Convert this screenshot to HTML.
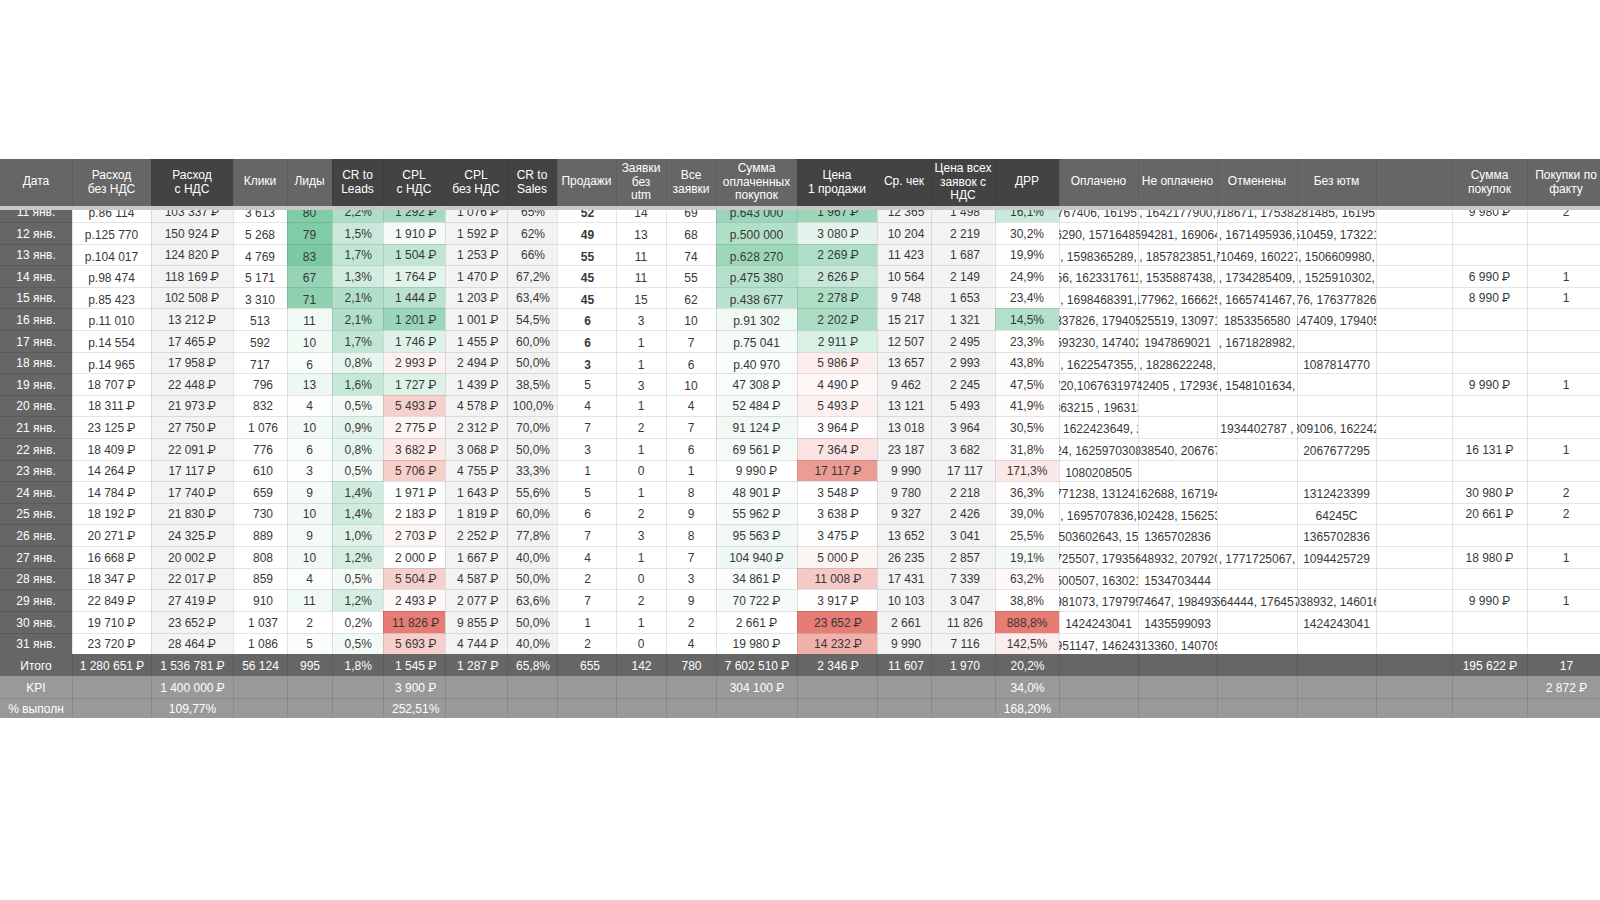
<!DOCTYPE html><html><head><meta charset="utf-8"><style>
html,body{margin:0;padding:0;background:#fff;}
body{width:1600px;height:900px;position:relative;overflow:hidden;font-family:"Liberation Sans",sans-serif;font-size:12px;color:#383838;}
.c{position:absolute;display:flex;align-items:center;justify-content:center;white-space:nowrap;overflow:hidden;box-sizing:border-box;padding-top:1.4px;}
.h{color:#fff;text-align:center;line-height:13.5px;white-space:normal;padding-top:0;}
.h1{padding-bottom:1px;}
.b{padding-top:4.2px;}
.rb{font-style:normal;position:relative;display:inline-block;line-height:12px;}
.rb:after{content:"";position:absolute;left:-0.6px;width:5.4px;top:8.2px;height:1px;background:currentColor;}
.w{color:#fff;}
#body{position:absolute;left:0;top:210px;width:1600px;height:508px;overflow:hidden;}
.vl{position:absolute;width:1px;}
.hl{position:absolute;height:1px;left:0;width:1600px;}
</style></head><body>

<div class="c h h1" style="left:0px;top:159px;width:72px;height:47px;background:#666666">Дата</div>
<div class="c h" style="left:72px;top:159px;width:79px;height:47px;background:#666666">Расход<br>без НДС</div>
<div class="c h" style="left:151px;top:159px;width:82px;height:47px;background:#434343">Расход<br>с НДС</div>
<div class="c h h1" style="left:233px;top:159px;width:54px;height:47px;background:#666666">Клики</div>
<div class="c h h1" style="left:287px;top:159px;width:45px;height:47px;background:#666666">Лиды</div>
<div class="c h" style="left:332px;top:159px;width:51px;height:47px;background:#434343">CR to<br>Leads</div>
<div class="c h" style="left:383px;top:159px;width:62px;height:47px;background:#434343">CPL<br>с НДС</div>
<div class="c h" style="left:445px;top:159px;width:62px;height:47px;background:#434343">CPL<br>без НДС</div>
<div class="c h" style="left:507px;top:159px;width:50px;height:47px;background:#434343">CR to<br>Sales</div>
<div class="c h h1" style="left:557px;top:159px;width:59px;height:47px;background:#666666">Продажи</div>
<div class="c h" style="left:616px;top:159px;width:50px;height:47px;background:#666666">Заявки<br>без<br>utm</div>
<div class="c h" style="left:666px;top:159px;width:50px;height:47px;background:#666666">Все<br>заявки</div>
<div class="c h" style="left:716px;top:159px;width:81px;height:47px;background:#666666">Сумма<br>оплаченных<br>покупок</div>
<div class="c h" style="left:797px;top:159px;width:80px;height:47px;background:#434343">Цена<br>1 продажи</div>
<div class="c h h1" style="left:877px;top:159px;width:54px;height:47px;background:#434343">Ср. чек</div>
<div class="c h" style="left:931px;top:159px;width:64px;height:47px;background:#434343">Цена всех<br>заявок с<br>НДС</div>
<div class="c h h1" style="left:995px;top:159px;width:64px;height:47px;background:#434343">ДРР</div>
<div class="c h h1" style="left:1059px;top:159px;width:79px;height:47px;background:#666666">Оплачено</div>
<div class="c h h1" style="left:1138px;top:159px;width:79px;height:47px;background:#666666">Не оплачено</div>
<div class="c h h1" style="left:1217px;top:159px;width:80px;height:47px;background:#666666">Отменены</div>
<div class="c h h1" style="left:1297px;top:159px;width:79px;height:47px;background:#666666">Без ютм</div>
<div class="c h h1" style="left:1376px;top:159px;width:76px;height:47px;background:#666666"></div>
<div class="c h" style="left:1452px;top:159px;width:75px;height:47px;background:#666666">Сумма<br>покупок</div>
<div class="c h" style="left:1527px;top:159px;width:78px;height:47px;background:#666666">Покупки по<br>факту</div>
<div class="vl" style="left:72px;top:159px;height:47px;background:rgba(0,0,0,0.08)"></div>
<div class="vl" style="left:151px;top:159px;height:47px;background:rgba(0,0,0,0.08)"></div>
<div class="vl" style="left:233px;top:159px;height:47px;background:rgba(0,0,0,0.08)"></div>
<div class="vl" style="left:287px;top:159px;height:47px;background:rgba(0,0,0,0.08)"></div>
<div class="vl" style="left:332px;top:159px;height:47px;background:rgba(0,0,0,0.08)"></div>
<div class="vl" style="left:383px;top:159px;height:47px;background:rgba(0,0,0,0.08)"></div>
<div class="vl" style="left:445px;top:159px;height:47px;background:rgba(0,0,0,0.08)"></div>
<div class="vl" style="left:507px;top:159px;height:47px;background:rgba(0,0,0,0.08)"></div>
<div class="vl" style="left:557px;top:159px;height:47px;background:rgba(0,0,0,0.08)"></div>
<div class="vl" style="left:616px;top:159px;height:47px;background:rgba(0,0,0,0.08)"></div>
<div class="vl" style="left:666px;top:159px;height:47px;background:rgba(0,0,0,0.08)"></div>
<div class="vl" style="left:716px;top:159px;height:47px;background:rgba(0,0,0,0.08)"></div>
<div class="vl" style="left:797px;top:159px;height:47px;background:rgba(0,0,0,0.08)"></div>
<div class="vl" style="left:877px;top:159px;height:47px;background:rgba(0,0,0,0.08)"></div>
<div class="vl" style="left:931px;top:159px;height:47px;background:rgba(0,0,0,0.08)"></div>
<div class="vl" style="left:995px;top:159px;height:47px;background:rgba(0,0,0,0.08)"></div>
<div class="vl" style="left:1059px;top:159px;height:47px;background:rgba(0,0,0,0.08)"></div>
<div class="vl" style="left:1138px;top:159px;height:47px;background:rgba(0,0,0,0.08)"></div>
<div class="vl" style="left:1217px;top:159px;height:47px;background:rgba(0,0,0,0.08)"></div>
<div class="vl" style="left:1297px;top:159px;height:47px;background:rgba(0,0,0,0.08)"></div>
<div class="vl" style="left:1376px;top:159px;height:47px;background:rgba(0,0,0,0.08)"></div>
<div class="vl" style="left:1452px;top:159px;height:47px;background:rgba(0,0,0,0.08)"></div>
<div class="vl" style="left:1527px;top:159px;height:47px;background:rgba(0,0,0,0.08)"></div>
<div style="position:absolute;left:0;top:206px;width:1600px;height:4px;background:#c8c8c8"></div>
<div id="body">
<div class="c w" style="left:0px;top:-10px;width:72px;height:22px;background:#666666">11 янв.</div>
<div class="c b" style="left:72px;top:-10px;width:79px;height:22px;background:#ffffff">р.86 114</div>
<div class="c" style="left:151px;top:-10px;width:82px;height:22px;background:#f3f3f3">103 337 <i class="rb">Р</i></div>
<div class="c b" style="left:233px;top:-10px;width:54px;height:22px;background:#ffffff">3 613</div>
<div class="c b" style="left:287px;top:-10px;width:45px;height:22px;background:#80cca6">80</div>
<div class="c" style="left:332px;top:-10px;width:51px;height:22px;background:#addec6;padding-left:1.6px">2,2%</div>
<div class="c" style="left:383px;top:-10px;width:62px;height:22px;background:#a6dbc1;padding-left:3.4px">1 292 <i class="rb">Р</i></div>
<div class="c" style="left:445px;top:-10px;width:62px;height:22px;background:#f3f3f3;padding-left:3.4px">1 076 <i class="rb">Р</i></div>
<div class="c" style="left:507px;top:-10px;width:50px;height:22px;background:#f3f3f3;padding-left:2px">65%</div>
<div class="c b" style="left:557px;top:-10px;width:59px;height:22px;background:#ffffff;font-weight:bold;padding-left:2px">52</div>
<div class="c b" style="left:616px;top:-10px;width:50px;height:22px;background:#ffffff">14</div>
<div class="c b" style="left:666px;top:-10px;width:50px;height:22px;background:#ffffff">69</div>
<div class="c b" style="left:716px;top:-10px;width:81px;height:22px;background:#9ad6b9">р.643 000</div>
<div class="c" style="left:797px;top:-10px;width:80px;height:22px;background:#9cd7ba;padding-left:2px">1 967 <i class="rb">Р</i></div>
<div class="c" style="left:877px;top:-10px;width:54px;height:22px;background:#f3f3f3;padding-left:4px">12 365</div>
<div class="c" style="left:931px;top:-10px;width:64px;height:22px;background:#f3f3f3;padding-left:4px">1 498</div>
<div class="c" style="left:995px;top:-10px;width:64px;height:22px;background:#c9e9da">16,1%</div>
<div class="c b" style="left:1059px;top:-10px;width:79px;height:22px;background:#ffffff">767406, 16195,</div>
<div class="c b" style="left:1138px;top:-10px;width:79px;height:22px;background:#ffffff">, 1642177900,</div>
<div class="c b" style="left:1217px;top:-10px;width:80px;height:22px;background:#ffffff">918671, 175382</div>
<div class="c b" style="left:1297px;top:-10px;width:79px;height:22px;background:#ffffff">281485, 16195,</div>
<div class="c" style="left:1376px;top:-10px;width:76px;height:22px;background:#ffffff"></div>
<div class="c" style="left:1452px;top:-10px;width:75px;height:22px;background:#ffffff">9 980 <i class="rb">Р</i></div>
<div class="c" style="left:1527px;top:-10px;width:78px;height:22px;background:#ffffff">2</div>
<div class="c w" style="left:0px;top:12px;width:72px;height:22px;background:#666666">12 янв.</div>
<div class="c b" style="left:72px;top:12px;width:79px;height:22px;background:#ffffff">р.125 770</div>
<div class="c" style="left:151px;top:12px;width:82px;height:22px;background:#f3f3f3">150 924 <i class="rb">Р</i></div>
<div class="c b" style="left:233px;top:12px;width:54px;height:22px;background:#ffffff">5 268</div>
<div class="c b" style="left:287px;top:12px;width:45px;height:22px;background:#81cca8">79</div>
<div class="c" style="left:332px;top:12px;width:51px;height:22px;background:#cae9da;padding-left:1.6px">1,5%</div>
<div class="c" style="left:383px;top:12px;width:62px;height:22px;background:#f4faf7;padding-left:3.4px">1 910 <i class="rb">Р</i></div>
<div class="c" style="left:445px;top:12px;width:62px;height:22px;background:#f3f3f3;padding-left:3.4px">1 592 <i class="rb">Р</i></div>
<div class="c" style="left:507px;top:12px;width:50px;height:22px;background:#f3f3f3;padding-left:2px">62%</div>
<div class="c b" style="left:557px;top:12px;width:59px;height:22px;background:#ffffff;font-weight:bold;padding-left:2px">49</div>
<div class="c b" style="left:616px;top:12px;width:50px;height:22px;background:#ffffff">13</div>
<div class="c b" style="left:666px;top:12px;width:50px;height:22px;background:#ffffff">68</div>
<div class="c b" style="left:716px;top:12px;width:81px;height:22px;background:#b1dfc8">р.500 000</div>
<div class="c" style="left:797px;top:12px;width:80px;height:22px;background:#e4f4ec;padding-left:2px">3 080 <i class="rb">Р</i></div>
<div class="c" style="left:877px;top:12px;width:54px;height:22px;background:#f3f3f3;padding-left:4px">10 204</div>
<div class="c" style="left:931px;top:12px;width:64px;height:22px;background:#f3f3f3;padding-left:4px">2 219</div>
<div class="c" style="left:995px;top:12px;width:64px;height:22px;background:#fffdfd">30,2%</div>
<div class="c b" style="left:1059px;top:12px;width:79px;height:22px;background:#ffffff">6290, 15716485</div>
<div class="c b" style="left:1138px;top:12px;width:79px;height:22px;background:#ffffff">594281, 169064</div>
<div class="c b" style="left:1217px;top:12px;width:80px;height:22px;background:#ffffff">, 1671495936,</div>
<div class="c b" style="left:1297px;top:12px;width:79px;height:22px;background:#ffffff">510459, 173221</div>
<div class="c" style="left:1376px;top:12px;width:76px;height:22px;background:#ffffff"></div>
<div class="c" style="left:1452px;top:12px;width:75px;height:22px;background:#ffffff"></div>
<div class="c" style="left:1527px;top:12px;width:78px;height:22px;background:#ffffff"></div>
<div class="c w" style="left:0px;top:34px;width:72px;height:21px;background:#666666">13 янв.</div>
<div class="c b" style="left:72px;top:34px;width:79px;height:21px;background:#ffffff">р.104 017</div>
<div class="c" style="left:151px;top:34px;width:82px;height:21px;background:#f3f3f3">124 820 <i class="rb">Р</i></div>
<div class="c b" style="left:233px;top:34px;width:54px;height:21px;background:#ffffff">4 769</div>
<div class="c b" style="left:287px;top:34px;width:45px;height:21px;background:#7bcaa3">83</div>
<div class="c" style="left:332px;top:34px;width:51px;height:21px;background:#c2e6d4;padding-left:1.6px">1,7%</div>
<div class="c" style="left:383px;top:34px;width:62px;height:21px;background:#c0e6d3;padding-left:3.4px">1 504 <i class="rb">Р</i></div>
<div class="c" style="left:445px;top:34px;width:62px;height:21px;background:#f3f3f3;padding-left:3.4px">1 253 <i class="rb">Р</i></div>
<div class="c" style="left:507px;top:34px;width:50px;height:21px;background:#f3f3f3;padding-left:2px">66%</div>
<div class="c b" style="left:557px;top:34px;width:59px;height:21px;background:#ffffff;font-weight:bold;padding-left:2px">55</div>
<div class="c b" style="left:616px;top:34px;width:50px;height:21px;background:#ffffff">11</div>
<div class="c b" style="left:666px;top:34px;width:50px;height:21px;background:#ffffff">74</div>
<div class="c b" style="left:716px;top:34px;width:81px;height:21px;background:#9dd7ba">р.628 270</div>
<div class="c" style="left:797px;top:34px;width:80px;height:21px;background:#afdfc8;padding-left:2px">2 269 <i class="rb">Р</i></div>
<div class="c" style="left:877px;top:34px;width:54px;height:21px;background:#f3f3f3;padding-left:4px">11 423</div>
<div class="c" style="left:931px;top:34px;width:64px;height:21px;background:#f3f3f3;padding-left:4px">1 687</div>
<div class="c" style="left:995px;top:34px;width:64px;height:21px;background:#fefefe">19,9%</div>
<div class="c b" style="left:1059px;top:34px;width:79px;height:21px;background:#ffffff">, 1598365289,</div>
<div class="c b" style="left:1138px;top:34px;width:79px;height:21px;background:#ffffff">, 1857823851,</div>
<div class="c b" style="left:1217px;top:34px;width:80px;height:21px;background:#ffffff">710469, 160227</div>
<div class="c b" style="left:1297px;top:34px;width:79px;height:21px;background:#ffffff">, 1506609980,</div>
<div class="c" style="left:1376px;top:34px;width:76px;height:21px;background:#ffffff"></div>
<div class="c" style="left:1452px;top:34px;width:75px;height:21px;background:#ffffff"></div>
<div class="c" style="left:1527px;top:34px;width:78px;height:21px;background:#ffffff"></div>
<div class="c w" style="left:0px;top:55px;width:72px;height:22px;background:#666666">14 янв.</div>
<div class="c b" style="left:72px;top:55px;width:79px;height:22px;background:#ffffff">р.98 474</div>
<div class="c" style="left:151px;top:55px;width:82px;height:22px;background:#f3f3f3">118 169 <i class="rb">Р</i></div>
<div class="c b" style="left:233px;top:55px;width:54px;height:22px;background:#ffffff">5 171</div>
<div class="c b" style="left:287px;top:55px;width:45px;height:22px;background:#95d4b5">67</div>
<div class="c" style="left:332px;top:55px;width:51px;height:22px;background:#d2ede0;padding-left:1.6px">1,3%</div>
<div class="c" style="left:383px;top:55px;width:62px;height:22px;background:#e1f3ea;padding-left:3.4px">1 764 <i class="rb">Р</i></div>
<div class="c" style="left:445px;top:55px;width:62px;height:22px;background:#f3f3f3;padding-left:3.4px">1 470 <i class="rb">Р</i></div>
<div class="c" style="left:507px;top:55px;width:50px;height:22px;background:#f3f3f3;padding-left:2px">67,2%</div>
<div class="c b" style="left:557px;top:55px;width:59px;height:22px;background:#ffffff;font-weight:bold;padding-left:2px">45</div>
<div class="c b" style="left:616px;top:55px;width:50px;height:22px;background:#ffffff">11</div>
<div class="c b" style="left:666px;top:55px;width:50px;height:22px;background:#ffffff">55</div>
<div class="c b" style="left:716px;top:55px;width:81px;height:22px;background:#b5e1cb">р.475 380</div>
<div class="c" style="left:797px;top:55px;width:80px;height:22px;background:#c7e8d8;padding-left:2px">2 626 <i class="rb">Р</i></div>
<div class="c" style="left:877px;top:55px;width:54px;height:22px;background:#f3f3f3;padding-left:4px">10 564</div>
<div class="c" style="left:931px;top:55px;width:64px;height:22px;background:#f3f3f3;padding-left:4px">2 149</div>
<div class="c" style="left:995px;top:55px;width:64px;height:22px;background:#fffefe">24,9%</div>
<div class="c b" style="left:1059px;top:55px;width:79px;height:22px;background:#ffffff">56, 1623317611</div>
<div class="c b" style="left:1138px;top:55px;width:79px;height:22px;background:#ffffff">, 1535887438,</div>
<div class="c b" style="left:1217px;top:55px;width:80px;height:22px;background:#ffffff">, 1734285409,</div>
<div class="c b" style="left:1297px;top:55px;width:79px;height:22px;background:#ffffff">, 1525910302,</div>
<div class="c" style="left:1376px;top:55px;width:76px;height:22px;background:#ffffff"></div>
<div class="c" style="left:1452px;top:55px;width:75px;height:22px;background:#ffffff">6 990 <i class="rb">Р</i></div>
<div class="c" style="left:1527px;top:55px;width:78px;height:22px;background:#ffffff">1</div>
<div class="c w" style="left:0px;top:77px;width:72px;height:21px;background:#666666">15 янв.</div>
<div class="c b" style="left:72px;top:77px;width:79px;height:21px;background:#ffffff">р.85 423</div>
<div class="c" style="left:151px;top:77px;width:82px;height:21px;background:#f3f3f3">102 508 <i class="rb">Р</i></div>
<div class="c b" style="left:233px;top:77px;width:54px;height:21px;background:#ffffff">3 310</div>
<div class="c b" style="left:287px;top:77px;width:45px;height:21px;background:#8ed1b1">71</div>
<div class="c" style="left:332px;top:77px;width:51px;height:21px;background:#b1dfc9;padding-left:1.6px">2,1%</div>
<div class="c" style="left:383px;top:77px;width:62px;height:21px;background:#b9e3ce;padding-left:3.4px">1 444 <i class="rb">Р</i></div>
<div class="c" style="left:445px;top:77px;width:62px;height:21px;background:#f3f3f3;padding-left:3.4px">1 203 <i class="rb">Р</i></div>
<div class="c" style="left:507px;top:77px;width:50px;height:21px;background:#f3f3f3;padding-left:2px">63,4%</div>
<div class="c b" style="left:557px;top:77px;width:59px;height:21px;background:#ffffff;font-weight:bold;padding-left:2px">45</div>
<div class="c b" style="left:616px;top:77px;width:50px;height:21px;background:#ffffff">15</div>
<div class="c b" style="left:666px;top:77px;width:50px;height:21px;background:#ffffff">62</div>
<div class="c b" style="left:716px;top:77px;width:81px;height:21px;background:#bae3cf">р.438 677</div>
<div class="c" style="left:797px;top:77px;width:80px;height:21px;background:#b0dfc8;padding-left:2px">2 278 <i class="rb">Р</i></div>
<div class="c" style="left:877px;top:77px;width:54px;height:21px;background:#f3f3f3;padding-left:4px">9 748</div>
<div class="c" style="left:931px;top:77px;width:64px;height:21px;background:#f3f3f3;padding-left:4px">1 653</div>
<div class="c" style="left:995px;top:77px;width:64px;height:21px;background:#fffefe">23,4%</div>
<div class="c b" style="left:1059px;top:77px;width:79px;height:21px;background:#ffffff">, 1698468391,</div>
<div class="c b" style="left:1138px;top:77px;width:79px;height:21px;background:#ffffff">177962, 166625</div>
<div class="c b" style="left:1217px;top:77px;width:80px;height:21px;background:#ffffff">, 1665741467,</div>
<div class="c b" style="left:1297px;top:77px;width:79px;height:21px;background:#ffffff">76, 176377826</div>
<div class="c" style="left:1376px;top:77px;width:76px;height:21px;background:#ffffff"></div>
<div class="c" style="left:1452px;top:77px;width:75px;height:21px;background:#ffffff">8 990 <i class="rb">Р</i></div>
<div class="c" style="left:1527px;top:77px;width:78px;height:21px;background:#ffffff">1</div>
<div class="c w" style="left:0px;top:98px;width:72px;height:22px;background:#666666">16 янв.</div>
<div class="c b" style="left:72px;top:98px;width:79px;height:22px;background:#ffffff">р.11 010</div>
<div class="c" style="left:151px;top:98px;width:82px;height:22px;background:#f3f3f3">13 212 <i class="rb">Р</i></div>
<div class="c b" style="left:233px;top:98px;width:54px;height:22px;background:#ffffff">513</div>
<div class="c b" style="left:287px;top:98px;width:45px;height:22px;background:#f0f9f5">11</div>
<div class="c" style="left:332px;top:98px;width:51px;height:22px;background:#b1dfc9;padding-left:1.6px">2,1%</div>
<div class="c" style="left:383px;top:98px;width:62px;height:22px;background:#9ad6b9;padding-left:3.4px">1 201 <i class="rb">Р</i></div>
<div class="c" style="left:445px;top:98px;width:62px;height:22px;background:#f3f3f3;padding-left:3.4px">1 001 <i class="rb">Р</i></div>
<div class="c" style="left:507px;top:98px;width:50px;height:22px;background:#f3f3f3;padding-left:2px">54,5%</div>
<div class="c b" style="left:557px;top:98px;width:59px;height:22px;background:#ffffff;font-weight:bold;padding-left:2px">6</div>
<div class="c b" style="left:616px;top:98px;width:50px;height:22px;background:#ffffff">3</div>
<div class="c b" style="left:666px;top:98px;width:50px;height:22px;background:#ffffff">10</div>
<div class="c b" style="left:716px;top:98px;width:81px;height:22px;background:#f1f9f5">р.91 302</div>
<div class="c" style="left:797px;top:98px;width:80px;height:22px;background:#abddc5;padding-left:2px">2 202 <i class="rb">Р</i></div>
<div class="c" style="left:877px;top:98px;width:54px;height:22px;background:#f3f3f3;padding-left:4px">15 217</div>
<div class="c" style="left:931px;top:98px;width:64px;height:22px;background:#f3f3f3;padding-left:4px">1 321</div>
<div class="c" style="left:995px;top:98px;width:64px;height:22px;background:#b3e0ca">14,5%</div>
<div class="c b" style="left:1059px;top:98px;width:79px;height:22px;background:#ffffff">337826, 179405</div>
<div class="c b" style="left:1138px;top:98px;width:79px;height:22px;background:#ffffff">525519, 130971</div>
<div class="c b" style="left:1217px;top:98px;width:80px;height:22px;background:#ffffff">1853356580</div>
<div class="c b" style="left:1297px;top:98px;width:79px;height:22px;background:#ffffff">147409, 179405</div>
<div class="c" style="left:1376px;top:98px;width:76px;height:22px;background:#ffffff"></div>
<div class="c" style="left:1452px;top:98px;width:75px;height:22px;background:#ffffff"></div>
<div class="c" style="left:1527px;top:98px;width:78px;height:22px;background:#ffffff"></div>
<div class="c w" style="left:0px;top:120px;width:72px;height:22px;background:#666666">17 янв.</div>
<div class="c b" style="left:72px;top:120px;width:79px;height:22px;background:#ffffff">р.14 554</div>
<div class="c" style="left:151px;top:120px;width:82px;height:22px;background:#f3f3f3">17 465 <i class="rb">Р</i></div>
<div class="c b" style="left:233px;top:120px;width:54px;height:22px;background:#ffffff">592</div>
<div class="c b" style="left:287px;top:120px;width:45px;height:22px;background:#f2faf6">10</div>
<div class="c" style="left:332px;top:120px;width:51px;height:22px;background:#c2e6d4;padding-left:1.6px">1,7%</div>
<div class="c" style="left:383px;top:120px;width:62px;height:22px;background:#dff2e9;padding-left:3.4px">1 746 <i class="rb">Р</i></div>
<div class="c" style="left:445px;top:120px;width:62px;height:22px;background:#f3f3f3;padding-left:3.4px">1 455 <i class="rb">Р</i></div>
<div class="c" style="left:507px;top:120px;width:50px;height:22px;background:#f3f3f3;padding-left:2px">60,0%</div>
<div class="c b" style="left:557px;top:120px;width:59px;height:22px;background:#ffffff;font-weight:bold;padding-left:2px">6</div>
<div class="c b" style="left:616px;top:120px;width:50px;height:22px;background:#ffffff">1</div>
<div class="c b" style="left:666px;top:120px;width:50px;height:22px;background:#ffffff">7</div>
<div class="c b" style="left:716px;top:120px;width:81px;height:22px;background:#f4faf7">р.75 041</div>
<div class="c" style="left:797px;top:120px;width:80px;height:22px;background:#d9f0e4;padding-left:2px">2 911 <i class="rb">Р</i></div>
<div class="c" style="left:877px;top:120px;width:54px;height:22px;background:#f3f3f3;padding-left:4px">12 507</div>
<div class="c" style="left:931px;top:120px;width:64px;height:22px;background:#f3f3f3;padding-left:4px">2 495</div>
<div class="c" style="left:995px;top:120px;width:64px;height:22px;background:#fffffe">23,3%</div>
<div class="c b" style="left:1059px;top:120px;width:79px;height:22px;background:#ffffff">593230, 147402</div>
<div class="c b" style="left:1138px;top:120px;width:79px;height:22px;background:#ffffff">1947869021</div>
<div class="c b" style="left:1217px;top:120px;width:80px;height:22px;background:#ffffff">, 1671828982,</div>
<div class="c b" style="left:1297px;top:120px;width:79px;height:22px;background:#ffffff"></div>
<div class="c" style="left:1376px;top:120px;width:76px;height:22px;background:#ffffff"></div>
<div class="c" style="left:1452px;top:120px;width:75px;height:22px;background:#ffffff"></div>
<div class="c" style="left:1527px;top:120px;width:78px;height:22px;background:#ffffff"></div>
<div class="c w" style="left:0px;top:142px;width:72px;height:21px;background:#666666">18 янв.</div>
<div class="c b" style="left:72px;top:142px;width:79px;height:21px;background:#ffffff">р.14 965</div>
<div class="c" style="left:151px;top:142px;width:82px;height:21px;background:#f3f3f3">17 958 <i class="rb">Р</i></div>
<div class="c b" style="left:233px;top:142px;width:54px;height:21px;background:#ffffff">717</div>
<div class="c b" style="left:287px;top:142px;width:45px;height:21px;background:#f8fcfa">6</div>
<div class="c" style="left:332px;top:142px;width:51px;height:21px;background:#e6f5ee;padding-left:1.6px">0,8%</div>
<div class="c" style="left:383px;top:142px;width:62px;height:21px;background:#fcf2f1;padding-left:3.4px">2 993 <i class="rb">Р</i></div>
<div class="c" style="left:445px;top:142px;width:62px;height:21px;background:#f3f3f3;padding-left:3.4px">2 494 <i class="rb">Р</i></div>
<div class="c" style="left:507px;top:142px;width:50px;height:21px;background:#f3f3f3;padding-left:2px">50,0%</div>
<div class="c b" style="left:557px;top:142px;width:59px;height:21px;background:#ffffff;font-weight:bold;padding-left:2px">3</div>
<div class="c b" style="left:616px;top:142px;width:50px;height:21px;background:#ffffff">1</div>
<div class="c b" style="left:666px;top:142px;width:50px;height:21px;background:#ffffff">6</div>
<div class="c b" style="left:716px;top:142px;width:81px;height:21px;background:#f9fdfb">р.40 970</div>
<div class="c" style="left:797px;top:142px;width:80px;height:21px;background:#fceeec;padding-left:2px">5 986 <i class="rb">Р</i></div>
<div class="c" style="left:877px;top:142px;width:54px;height:21px;background:#f3f3f3;padding-left:4px">13 657</div>
<div class="c" style="left:931px;top:142px;width:64px;height:21px;background:#f3f3f3;padding-left:4px">2 993</div>
<div class="c" style="left:995px;top:142px;width:64px;height:21px;background:#fefbfb">43,8%</div>
<div class="c b" style="left:1059px;top:142px;width:79px;height:21px;background:#ffffff">, 1622547355,</div>
<div class="c b" style="left:1138px;top:142px;width:79px;height:21px;background:#ffffff">, 1828622248,</div>
<div class="c b" style="left:1217px;top:142px;width:80px;height:21px;background:#ffffff"></div>
<div class="c b" style="left:1297px;top:142px;width:79px;height:21px;background:#ffffff">1087814770</div>
<div class="c" style="left:1376px;top:142px;width:76px;height:21px;background:#ffffff"></div>
<div class="c" style="left:1452px;top:142px;width:75px;height:21px;background:#ffffff"></div>
<div class="c" style="left:1527px;top:142px;width:78px;height:21px;background:#ffffff"></div>
<div class="c w" style="left:0px;top:163px;width:72px;height:22px;background:#666666">19 янв.</div>
<div class="c" style="left:72px;top:163px;width:79px;height:22px;background:#ffffff">18 707 <i class="rb">Р</i></div>
<div class="c" style="left:151px;top:163px;width:82px;height:22px;background:#f3f3f3">22 448 <i class="rb">Р</i></div>
<div class="c" style="left:233px;top:163px;width:54px;height:22px;background:#ffffff;padding-left:6px">796</div>
<div class="c" style="left:287px;top:163px;width:45px;height:22px;background:#edf8f3">13</div>
<div class="c" style="left:332px;top:163px;width:51px;height:22px;background:#c6e8d7;padding-left:1.6px">1,6%</div>
<div class="c" style="left:383px;top:163px;width:62px;height:22px;background:#ddf1e7;padding-left:3.4px">1 727 <i class="rb">Р</i></div>
<div class="c" style="left:445px;top:163px;width:62px;height:22px;background:#f3f3f3;padding-left:3.4px">1 439 <i class="rb">Р</i></div>
<div class="c" style="left:507px;top:163px;width:50px;height:22px;background:#f3f3f3;padding-left:2px">38,5%</div>
<div class="c" style="left:557px;top:163px;width:59px;height:22px;background:#ffffff;padding-left:2px">5</div>
<div class="c b" style="left:616px;top:163px;width:50px;height:22px;background:#ffffff">3</div>
<div class="c b" style="left:666px;top:163px;width:50px;height:22px;background:#ffffff">10</div>
<div class="c" style="left:716px;top:163px;width:81px;height:22px;background:#f8fcfa">47 308 <i class="rb">Р</i></div>
<div class="c" style="left:797px;top:163px;width:80px;height:22px;background:#fef8f8;padding-left:2px">4 490 <i class="rb">Р</i></div>
<div class="c" style="left:877px;top:163px;width:54px;height:22px;background:#f3f3f3;padding-left:4px">9 462</div>
<div class="c" style="left:931px;top:163px;width:64px;height:22px;background:#f3f3f3;padding-left:4px">2 245</div>
<div class="c" style="left:995px;top:163px;width:64px;height:22px;background:#fefbfb">47,5%</div>
<div class="c b" style="left:1059px;top:163px;width:79px;height:22px;background:#ffffff">720,1067631974</div>
<div class="c b" style="left:1138px;top:163px;width:79px;height:22px;background:#ffffff">42405 , 172936</div>
<div class="c b" style="left:1217px;top:163px;width:80px;height:22px;background:#ffffff">, 1548101634,</div>
<div class="c b" style="left:1297px;top:163px;width:79px;height:22px;background:#ffffff"></div>
<div class="c" style="left:1376px;top:163px;width:76px;height:22px;background:#ffffff"></div>
<div class="c" style="left:1452px;top:163px;width:75px;height:22px;background:#ffffff">9 990 <i class="rb">Р</i></div>
<div class="c" style="left:1527px;top:163px;width:78px;height:22px;background:#ffffff">1</div>
<div class="c w" style="left:0px;top:185px;width:72px;height:21px;background:#666666">20 янв.</div>
<div class="c" style="left:72px;top:185px;width:79px;height:21px;background:#ffffff">18 311 <i class="rb">Р</i></div>
<div class="c" style="left:151px;top:185px;width:82px;height:21px;background:#f3f3f3">21 973 <i class="rb">Р</i></div>
<div class="c" style="left:233px;top:185px;width:54px;height:21px;background:#ffffff;padding-left:6px">832</div>
<div class="c" style="left:287px;top:185px;width:45px;height:21px;background:#fcfefd">4</div>
<div class="c" style="left:332px;top:185px;width:51px;height:21px;background:#f3faf6;padding-left:1.6px">0,5%</div>
<div class="c" style="left:383px;top:185px;width:62px;height:21px;background:#f6d0cd;padding-left:3.4px">5 493 <i class="rb">Р</i></div>
<div class="c" style="left:445px;top:185px;width:62px;height:21px;background:#f3f3f3;padding-left:3.4px">4 578 <i class="rb">Р</i></div>
<div class="c" style="left:507px;top:185px;width:50px;height:21px;background:#f3f3f3;padding-left:2px">100,0%</div>
<div class="c" style="left:557px;top:185px;width:59px;height:21px;background:#ffffff;padding-left:2px">4</div>
<div class="c" style="left:616px;top:185px;width:50px;height:21px;background:#ffffff">1</div>
<div class="c" style="left:666px;top:185px;width:50px;height:21px;background:#ffffff">4</div>
<div class="c" style="left:716px;top:185px;width:81px;height:21px;background:#f7fcfa">52 484 <i class="rb">Р</i></div>
<div class="c" style="left:797px;top:185px;width:80px;height:21px;background:#fcf1f0;padding-left:2px">5 493 <i class="rb">Р</i></div>
<div class="c" style="left:877px;top:185px;width:54px;height:21px;background:#f3f3f3;padding-left:4px">13 121</div>
<div class="c" style="left:931px;top:185px;width:64px;height:21px;background:#f3f3f3;padding-left:4px">5 493</div>
<div class="c" style="left:995px;top:185px;width:64px;height:21px;background:#fefcfb">41,9%</div>
<div class="c b" style="left:1059px;top:185px;width:79px;height:21px;background:#ffffff">363215 , 196313</div>
<div class="c b" style="left:1138px;top:185px;width:79px;height:21px;background:#ffffff"></div>
<div class="c b" style="left:1217px;top:185px;width:80px;height:21px;background:#ffffff"></div>
<div class="c b" style="left:1297px;top:185px;width:79px;height:21px;background:#ffffff"></div>
<div class="c" style="left:1376px;top:185px;width:76px;height:21px;background:#ffffff"></div>
<div class="c" style="left:1452px;top:185px;width:75px;height:21px;background:#ffffff"></div>
<div class="c" style="left:1527px;top:185px;width:78px;height:21px;background:#ffffff"></div>
<div class="c w" style="left:0px;top:206px;width:72px;height:22px;background:#666666">21 янв.</div>
<div class="c" style="left:72px;top:206px;width:79px;height:22px;background:#ffffff">23 125 <i class="rb">Р</i></div>
<div class="c" style="left:151px;top:206px;width:82px;height:22px;background:#f3f3f3">27 750 <i class="rb">Р</i></div>
<div class="c" style="left:233px;top:206px;width:54px;height:22px;background:#ffffff;padding-left:6px">1 076</div>
<div class="c" style="left:287px;top:206px;width:45px;height:22px;background:#f2faf6">10</div>
<div class="c" style="left:332px;top:206px;width:51px;height:22px;background:#e2f3eb;padding-left:1.6px">0,9%</div>
<div class="c" style="left:383px;top:206px;width:62px;height:22px;background:#fdf5f4;padding-left:3.4px">2 775 <i class="rb">Р</i></div>
<div class="c" style="left:445px;top:206px;width:62px;height:22px;background:#f3f3f3;padding-left:3.4px">2 312 <i class="rb">Р</i></div>
<div class="c" style="left:507px;top:206px;width:50px;height:22px;background:#f3f3f3;padding-left:2px">70,0%</div>
<div class="c" style="left:557px;top:206px;width:59px;height:22px;background:#ffffff;padding-left:2px">7</div>
<div class="c" style="left:616px;top:206px;width:50px;height:22px;background:#ffffff">2</div>
<div class="c" style="left:666px;top:206px;width:50px;height:22px;background:#ffffff">7</div>
<div class="c" style="left:716px;top:206px;width:81px;height:22px;background:#f1f9f5">91 124 <i class="rb">Р</i></div>
<div class="c" style="left:797px;top:206px;width:80px;height:22px;background:#fefcfc;padding-left:2px">3 964 <i class="rb">Р</i></div>
<div class="c" style="left:877px;top:206px;width:54px;height:22px;background:#f3f3f3;padding-left:4px">13 018</div>
<div class="c" style="left:931px;top:206px;width:64px;height:22px;background:#f3f3f3;padding-left:4px">3 964</div>
<div class="c" style="left:995px;top:206px;width:64px;height:22px;background:#fffdfd">30,5%</div>
<div class="c b" style="left:1059px;top:206px;width:79px;height:22px;background:#ffffff;justify-content:flex-start;padding-left:4px">1622423649, 2</div>
<div class="c b" style="left:1138px;top:206px;width:79px;height:22px;background:#ffffff"></div>
<div class="c b" style="left:1217px;top:206px;width:80px;height:22px;background:#ffffff">1934402787 ,</div>
<div class="c b" style="left:1297px;top:206px;width:79px;height:22px;background:#ffffff">309106, 162242</div>
<div class="c" style="left:1376px;top:206px;width:76px;height:22px;background:#ffffff"></div>
<div class="c" style="left:1452px;top:206px;width:75px;height:22px;background:#ffffff"></div>
<div class="c" style="left:1527px;top:206px;width:78px;height:22px;background:#ffffff"></div>
<div class="c w" style="left:0px;top:228px;width:72px;height:22px;background:#666666">22 янв.</div>
<div class="c" style="left:72px;top:228px;width:79px;height:22px;background:#ffffff">18 409 <i class="rb">Р</i></div>
<div class="c" style="left:151px;top:228px;width:82px;height:22px;background:#f3f3f3">22 091 <i class="rb">Р</i></div>
<div class="c" style="left:233px;top:228px;width:54px;height:22px;background:#ffffff;padding-left:6px">776</div>
<div class="c" style="left:287px;top:228px;width:45px;height:22px;background:#f8fcfa">6</div>
<div class="c" style="left:332px;top:228px;width:51px;height:22px;background:#e6f5ee;padding-left:1.6px">0,8%</div>
<div class="c" style="left:383px;top:228px;width:62px;height:22px;background:#fbe9e7;padding-left:3.4px">3 682 <i class="rb">Р</i></div>
<div class="c" style="left:445px;top:228px;width:62px;height:22px;background:#f3f3f3;padding-left:3.4px">3 068 <i class="rb">Р</i></div>
<div class="c" style="left:507px;top:228px;width:50px;height:22px;background:#f3f3f3;padding-left:2px">50,0%</div>
<div class="c" style="left:557px;top:228px;width:59px;height:22px;background:#ffffff;padding-left:2px">3</div>
<div class="c" style="left:616px;top:228px;width:50px;height:22px;background:#ffffff">1</div>
<div class="c" style="left:666px;top:228px;width:50px;height:22px;background:#ffffff">6</div>
<div class="c" style="left:716px;top:228px;width:81px;height:22px;background:#f4fbf8">69 561 <i class="rb">Р</i></div>
<div class="c" style="left:797px;top:228px;width:80px;height:22px;background:#fae3e2;padding-left:2px">7 364 <i class="rb">Р</i></div>
<div class="c" style="left:877px;top:228px;width:54px;height:22px;background:#f3f3f3;padding-left:4px">23 187</div>
<div class="c" style="left:931px;top:228px;width:64px;height:22px;background:#f3f3f3;padding-left:4px">3 682</div>
<div class="c" style="left:995px;top:228px;width:64px;height:22px;background:#fffdfd">31,8%</div>
<div class="c b" style="left:1059px;top:228px;width:79px;height:22px;background:#ffffff">24, 1625970308</div>
<div class="c b" style="left:1138px;top:228px;width:79px;height:22px;background:#ffffff">038540, 206767</div>
<div class="c b" style="left:1217px;top:228px;width:80px;height:22px;background:#ffffff"></div>
<div class="c b" style="left:1297px;top:228px;width:79px;height:22px;background:#ffffff">2067677295</div>
<div class="c" style="left:1376px;top:228px;width:76px;height:22px;background:#ffffff"></div>
<div class="c" style="left:1452px;top:228px;width:75px;height:22px;background:#ffffff">16 131 <i class="rb">Р</i></div>
<div class="c" style="left:1527px;top:228px;width:78px;height:22px;background:#ffffff">1</div>
<div class="c w" style="left:0px;top:250px;width:72px;height:21px;background:#666666">23 янв.</div>
<div class="c" style="left:72px;top:250px;width:79px;height:21px;background:#ffffff">14 264 <i class="rb">Р</i></div>
<div class="c" style="left:151px;top:250px;width:82px;height:21px;background:#f3f3f3">17 117 <i class="rb">Р</i></div>
<div class="c" style="left:233px;top:250px;width:54px;height:21px;background:#ffffff;padding-left:6px">610</div>
<div class="c" style="left:287px;top:250px;width:45px;height:21px;background:#fdfefe">3</div>
<div class="c" style="left:332px;top:250px;width:51px;height:21px;background:#f3faf6;padding-left:1.6px">0,5%</div>
<div class="c" style="left:383px;top:250px;width:62px;height:21px;background:#f6ceca;padding-left:3.4px">5 706 <i class="rb">Р</i></div>
<div class="c" style="left:445px;top:250px;width:62px;height:21px;background:#f3f3f3;padding-left:3.4px">4 755 <i class="rb">Р</i></div>
<div class="c" style="left:507px;top:250px;width:50px;height:21px;background:#f3f3f3;padding-left:2px">33,3%</div>
<div class="c" style="left:557px;top:250px;width:59px;height:21px;background:#ffffff;padding-left:2px">1</div>
<div class="c" style="left:616px;top:250px;width:50px;height:21px;background:#ffffff">0</div>
<div class="c" style="left:666px;top:250px;width:50px;height:21px;background:#ffffff">1</div>
<div class="c" style="left:716px;top:250px;width:81px;height:21px;background:#fefffe">9 990 <i class="rb">Р</i></div>
<div class="c" style="left:797px;top:250px;width:80px;height:21px;background:#ec9c95;padding-left:2px">17 117 <i class="rb">Р</i></div>
<div class="c" style="left:877px;top:250px;width:54px;height:21px;background:#f3f3f3;padding-left:4px">9 990</div>
<div class="c" style="left:931px;top:250px;width:64px;height:21px;background:#f3f3f3;padding-left:4px">17 117</div>
<div class="c" style="left:995px;top:250px;width:64px;height:21px;background:#fbe8e7">171,3%</div>
<div class="c b" style="left:1059px;top:250px;width:79px;height:21px;background:#ffffff">1080208505</div>
<div class="c b" style="left:1138px;top:250px;width:79px;height:21px;background:#ffffff"></div>
<div class="c b" style="left:1217px;top:250px;width:80px;height:21px;background:#ffffff"></div>
<div class="c b" style="left:1297px;top:250px;width:79px;height:21px;background:#ffffff"></div>
<div class="c" style="left:1376px;top:250px;width:76px;height:21px;background:#ffffff"></div>
<div class="c" style="left:1452px;top:250px;width:75px;height:21px;background:#ffffff"></div>
<div class="c" style="left:1527px;top:250px;width:78px;height:21px;background:#ffffff"></div>
<div class="c w" style="left:0px;top:271px;width:72px;height:22px;background:#666666">24 янв.</div>
<div class="c" style="left:72px;top:271px;width:79px;height:22px;background:#ffffff">14 784 <i class="rb">Р</i></div>
<div class="c" style="left:151px;top:271px;width:82px;height:22px;background:#f3f3f3">17 740 <i class="rb">Р</i></div>
<div class="c" style="left:233px;top:271px;width:54px;height:22px;background:#ffffff;padding-left:6px">659</div>
<div class="c" style="left:287px;top:271px;width:45px;height:22px;background:#f4faf7">9</div>
<div class="c" style="left:332px;top:271px;width:51px;height:22px;background:#ceebdd;padding-left:1.6px">1,4%</div>
<div class="c" style="left:383px;top:271px;width:62px;height:22px;background:#fbfefc;padding-left:3.4px">1 971 <i class="rb">Р</i></div>
<div class="c" style="left:445px;top:271px;width:62px;height:22px;background:#f3f3f3;padding-left:3.4px">1 643 <i class="rb">Р</i></div>
<div class="c" style="left:507px;top:271px;width:50px;height:22px;background:#f3f3f3;padding-left:2px">55,6%</div>
<div class="c" style="left:557px;top:271px;width:59px;height:22px;background:#ffffff;padding-left:2px">5</div>
<div class="c" style="left:616px;top:271px;width:50px;height:22px;background:#ffffff">1</div>
<div class="c" style="left:666px;top:271px;width:50px;height:22px;background:#ffffff">8</div>
<div class="c" style="left:716px;top:271px;width:81px;height:22px;background:#f8fcfa">48 901 <i class="rb">Р</i></div>
<div class="c" style="left:797px;top:271px;width:80px;height:22px;background:#ffffff;padding-left:2px">3 548 <i class="rb">Р</i></div>
<div class="c" style="left:877px;top:271px;width:54px;height:22px;background:#f3f3f3;padding-left:4px">9 780</div>
<div class="c" style="left:931px;top:271px;width:64px;height:22px;background:#f3f3f3;padding-left:4px">2 218</div>
<div class="c" style="left:995px;top:271px;width:64px;height:22px;background:#fffdfc">36,3%</div>
<div class="c b" style="left:1059px;top:271px;width:79px;height:22px;background:#ffffff">771238, 131241</div>
<div class="c b" style="left:1138px;top:271px;width:79px;height:22px;background:#ffffff">162688, 167194</div>
<div class="c b" style="left:1217px;top:271px;width:80px;height:22px;background:#ffffff"></div>
<div class="c b" style="left:1297px;top:271px;width:79px;height:22px;background:#ffffff">1312423399</div>
<div class="c" style="left:1376px;top:271px;width:76px;height:22px;background:#ffffff"></div>
<div class="c" style="left:1452px;top:271px;width:75px;height:22px;background:#ffffff">30 980 <i class="rb">Р</i></div>
<div class="c" style="left:1527px;top:271px;width:78px;height:22px;background:#ffffff">2</div>
<div class="c w" style="left:0px;top:293px;width:72px;height:21px;background:#666666">25 янв.</div>
<div class="c" style="left:72px;top:293px;width:79px;height:21px;background:#ffffff">18 192 <i class="rb">Р</i></div>
<div class="c" style="left:151px;top:293px;width:82px;height:21px;background:#f3f3f3">21 830 <i class="rb">Р</i></div>
<div class="c" style="left:233px;top:293px;width:54px;height:21px;background:#ffffff;padding-left:6px">730</div>
<div class="c" style="left:287px;top:293px;width:45px;height:21px;background:#f2faf6">10</div>
<div class="c" style="left:332px;top:293px;width:51px;height:21px;background:#ceebdd;padding-left:1.6px">1,4%</div>
<div class="c" style="left:383px;top:293px;width:62px;height:21px;background:#fffdfc;padding-left:3.4px">2 183 <i class="rb">Р</i></div>
<div class="c" style="left:445px;top:293px;width:62px;height:21px;background:#f3f3f3;padding-left:3.4px">1 819 <i class="rb">Р</i></div>
<div class="c" style="left:507px;top:293px;width:50px;height:21px;background:#f3f3f3;padding-left:2px">60,0%</div>
<div class="c" style="left:557px;top:293px;width:59px;height:21px;background:#ffffff;padding-left:2px">6</div>
<div class="c" style="left:616px;top:293px;width:50px;height:21px;background:#ffffff">2</div>
<div class="c" style="left:666px;top:293px;width:50px;height:21px;background:#ffffff">9</div>
<div class="c" style="left:716px;top:293px;width:81px;height:21px;background:#f7fcf9">55 962 <i class="rb">Р</i></div>
<div class="c" style="left:797px;top:293px;width:80px;height:21px;background:#ffffff;padding-left:2px">3 638 <i class="rb">Р</i></div>
<div class="c" style="left:877px;top:293px;width:54px;height:21px;background:#f3f3f3;padding-left:4px">9 327</div>
<div class="c" style="left:931px;top:293px;width:64px;height:21px;background:#f3f3f3;padding-left:4px">2 426</div>
<div class="c" style="left:995px;top:293px;width:64px;height:21px;background:#fefcfc">39,0%</div>
<div class="c b" style="left:1059px;top:293px;width:79px;height:21px;background:#ffffff">, 1695707836,</div>
<div class="c b" style="left:1138px;top:293px;width:79px;height:21px;background:#ffffff">402428, 156253</div>
<div class="c b" style="left:1217px;top:293px;width:80px;height:21px;background:#ffffff"></div>
<div class="c b" style="left:1297px;top:293px;width:79px;height:21px;background:#ffffff">64245C</div>
<div class="c" style="left:1376px;top:293px;width:76px;height:21px;background:#ffffff"></div>
<div class="c" style="left:1452px;top:293px;width:75px;height:21px;background:#ffffff">20 661 <i class="rb">Р</i></div>
<div class="c" style="left:1527px;top:293px;width:78px;height:21px;background:#ffffff">2</div>
<div class="c w" style="left:0px;top:314px;width:72px;height:22px;background:#666666">26 янв.</div>
<div class="c" style="left:72px;top:314px;width:79px;height:22px;background:#ffffff">20 271 <i class="rb">Р</i></div>
<div class="c" style="left:151px;top:314px;width:82px;height:22px;background:#f3f3f3">24 325 <i class="rb">Р</i></div>
<div class="c" style="left:233px;top:314px;width:54px;height:22px;background:#ffffff;padding-left:6px">889</div>
<div class="c" style="left:287px;top:314px;width:45px;height:22px;background:#f4faf7">9</div>
<div class="c" style="left:332px;top:314px;width:51px;height:22px;background:#def2e8;padding-left:1.6px">1,0%</div>
<div class="c" style="left:383px;top:314px;width:62px;height:22px;background:#fdf6f5;padding-left:3.4px">2 703 <i class="rb">Р</i></div>
<div class="c" style="left:445px;top:314px;width:62px;height:22px;background:#f3f3f3;padding-left:3.4px">2 252 <i class="rb">Р</i></div>
<div class="c" style="left:507px;top:314px;width:50px;height:22px;background:#f3f3f3;padding-left:2px">77,8%</div>
<div class="c" style="left:557px;top:314px;width:59px;height:22px;background:#ffffff;padding-left:2px">7</div>
<div class="c" style="left:616px;top:314px;width:50px;height:22px;background:#ffffff">3</div>
<div class="c" style="left:666px;top:314px;width:50px;height:22px;background:#ffffff">8</div>
<div class="c" style="left:716px;top:314px;width:81px;height:22px;background:#f0f9f5">95 563 <i class="rb">Р</i></div>
<div class="c" style="left:797px;top:314px;width:80px;height:22px;background:#fdfefe;padding-left:2px">3 475 <i class="rb">Р</i></div>
<div class="c" style="left:877px;top:314px;width:54px;height:22px;background:#f3f3f3;padding-left:4px">13 652</div>
<div class="c" style="left:931px;top:314px;width:64px;height:22px;background:#f3f3f3;padding-left:4px">3 041</div>
<div class="c" style="left:995px;top:314px;width:64px;height:22px;background:#fffefe">25,5%</div>
<div class="c b" style="left:1059px;top:314px;width:79px;height:22px;background:#ffffff">503602643, 15</div>
<div class="c b" style="left:1138px;top:314px;width:79px;height:22px;background:#ffffff">1365702836</div>
<div class="c b" style="left:1217px;top:314px;width:80px;height:22px;background:#ffffff"></div>
<div class="c b" style="left:1297px;top:314px;width:79px;height:22px;background:#ffffff">1365702836</div>
<div class="c" style="left:1376px;top:314px;width:76px;height:22px;background:#ffffff"></div>
<div class="c" style="left:1452px;top:314px;width:75px;height:22px;background:#ffffff"></div>
<div class="c" style="left:1527px;top:314px;width:78px;height:22px;background:#ffffff"></div>
<div class="c w" style="left:0px;top:336px;width:72px;height:22px;background:#666666">27 янв.</div>
<div class="c" style="left:72px;top:336px;width:79px;height:22px;background:#ffffff">16 668 <i class="rb">Р</i></div>
<div class="c" style="left:151px;top:336px;width:82px;height:22px;background:#f3f3f3">20 002 <i class="rb">Р</i></div>
<div class="c" style="left:233px;top:336px;width:54px;height:22px;background:#ffffff;padding-left:6px">808</div>
<div class="c" style="left:287px;top:336px;width:45px;height:22px;background:#f2faf6">10</div>
<div class="c" style="left:332px;top:336px;width:51px;height:22px;background:#d6eee2;padding-left:1.6px">1,2%</div>
<div class="c" style="left:383px;top:336px;width:62px;height:22px;background:#ffffff;padding-left:3.4px">2 000 <i class="rb">Р</i></div>
<div class="c" style="left:445px;top:336px;width:62px;height:22px;background:#f3f3f3;padding-left:3.4px">1 667 <i class="rb">Р</i></div>
<div class="c" style="left:507px;top:336px;width:50px;height:22px;background:#f3f3f3;padding-left:2px">40,0%</div>
<div class="c" style="left:557px;top:336px;width:59px;height:22px;background:#ffffff;padding-left:2px">4</div>
<div class="c" style="left:616px;top:336px;width:50px;height:22px;background:#ffffff">1</div>
<div class="c" style="left:666px;top:336px;width:50px;height:22px;background:#ffffff">7</div>
<div class="c" style="left:716px;top:336px;width:81px;height:22px;background:#eff8f4">104 940 <i class="rb">Р</i></div>
<div class="c" style="left:797px;top:336px;width:80px;height:22px;background:#fdf5f4;padding-left:2px">5 000 <i class="rb">Р</i></div>
<div class="c" style="left:877px;top:336px;width:54px;height:22px;background:#f3f3f3;padding-left:4px">26 235</div>
<div class="c" style="left:931px;top:336px;width:64px;height:22px;background:#f3f3f3;padding-left:4px">2 857</div>
<div class="c" style="left:995px;top:336px;width:64px;height:22px;background:#f3faf6">19,1%</div>
<div class="c b" style="left:1059px;top:336px;width:79px;height:22px;background:#ffffff">725507, 179356</div>
<div class="c b" style="left:1138px;top:336px;width:79px;height:22px;background:#ffffff">648932, 207920</div>
<div class="c b" style="left:1217px;top:336px;width:80px;height:22px;background:#ffffff">, 1771725067,</div>
<div class="c b" style="left:1297px;top:336px;width:79px;height:22px;background:#ffffff">1094425729</div>
<div class="c" style="left:1376px;top:336px;width:76px;height:22px;background:#ffffff"></div>
<div class="c" style="left:1452px;top:336px;width:75px;height:22px;background:#ffffff">18 980 <i class="rb">Р</i></div>
<div class="c" style="left:1527px;top:336px;width:78px;height:22px;background:#ffffff">1</div>
<div class="c w" style="left:0px;top:358px;width:72px;height:21px;background:#666666">28 янв.</div>
<div class="c" style="left:72px;top:358px;width:79px;height:21px;background:#ffffff">18 347 <i class="rb">Р</i></div>
<div class="c" style="left:151px;top:358px;width:82px;height:21px;background:#f3f3f3">22 017 <i class="rb">Р</i></div>
<div class="c" style="left:233px;top:358px;width:54px;height:21px;background:#ffffff;padding-left:6px">859</div>
<div class="c" style="left:287px;top:358px;width:45px;height:21px;background:#fcfefd">4</div>
<div class="c" style="left:332px;top:358px;width:51px;height:21px;background:#f3faf6;padding-left:1.6px">0,5%</div>
<div class="c" style="left:383px;top:358px;width:62px;height:21px;background:#f6d0cd;padding-left:3.4px">5 504 <i class="rb">Р</i></div>
<div class="c" style="left:445px;top:358px;width:62px;height:21px;background:#f3f3f3;padding-left:3.4px">4 587 <i class="rb">Р</i></div>
<div class="c" style="left:507px;top:358px;width:50px;height:21px;background:#f3f3f3;padding-left:2px">50,0%</div>
<div class="c" style="left:557px;top:358px;width:59px;height:21px;background:#ffffff;padding-left:2px">2</div>
<div class="c" style="left:616px;top:358px;width:50px;height:21px;background:#ffffff">0</div>
<div class="c" style="left:666px;top:358px;width:50px;height:21px;background:#ffffff">3</div>
<div class="c" style="left:716px;top:358px;width:81px;height:21px;background:#fafdfb">34 861 <i class="rb">Р</i></div>
<div class="c" style="left:797px;top:358px;width:80px;height:21px;background:#f5c9c5;padding-left:2px">11 008 <i class="rb">Р</i></div>
<div class="c" style="left:877px;top:358px;width:54px;height:21px;background:#f3f3f3;padding-left:4px">17 431</div>
<div class="c" style="left:931px;top:358px;width:64px;height:21px;background:#f3f3f3;padding-left:4px">7 339</div>
<div class="c" style="left:995px;top:358px;width:64px;height:21px;background:#fef8f8">63,2%</div>
<div class="c b" style="left:1059px;top:358px;width:79px;height:21px;background:#ffffff">500507, 163021</div>
<div class="c b" style="left:1138px;top:358px;width:79px;height:21px;background:#ffffff">1534703444</div>
<div class="c b" style="left:1217px;top:358px;width:80px;height:21px;background:#ffffff"></div>
<div class="c b" style="left:1297px;top:358px;width:79px;height:21px;background:#ffffff"></div>
<div class="c" style="left:1376px;top:358px;width:76px;height:21px;background:#ffffff"></div>
<div class="c" style="left:1452px;top:358px;width:75px;height:21px;background:#ffffff"></div>
<div class="c" style="left:1527px;top:358px;width:78px;height:21px;background:#ffffff"></div>
<div class="c w" style="left:0px;top:379px;width:72px;height:22px;background:#666666">29 янв.</div>
<div class="c" style="left:72px;top:379px;width:79px;height:22px;background:#ffffff">22 849 <i class="rb">Р</i></div>
<div class="c" style="left:151px;top:379px;width:82px;height:22px;background:#f3f3f3">27 419 <i class="rb">Р</i></div>
<div class="c" style="left:233px;top:379px;width:54px;height:22px;background:#ffffff;padding-left:6px">910</div>
<div class="c" style="left:287px;top:379px;width:45px;height:22px;background:#f0f9f5">11</div>
<div class="c" style="left:332px;top:379px;width:51px;height:22px;background:#d6eee2;padding-left:1.6px">1,2%</div>
<div class="c" style="left:383px;top:379px;width:62px;height:22px;background:#fef8f8;padding-left:3.4px">2 493 <i class="rb">Р</i></div>
<div class="c" style="left:445px;top:379px;width:62px;height:22px;background:#f3f3f3;padding-left:3.4px">2 077 <i class="rb">Р</i></div>
<div class="c" style="left:507px;top:379px;width:50px;height:22px;background:#f3f3f3;padding-left:2px">63,6%</div>
<div class="c" style="left:557px;top:379px;width:59px;height:22px;background:#ffffff;padding-left:2px">7</div>
<div class="c" style="left:616px;top:379px;width:50px;height:22px;background:#ffffff">2</div>
<div class="c" style="left:666px;top:379px;width:50px;height:22px;background:#ffffff">9</div>
<div class="c" style="left:716px;top:379px;width:81px;height:22px;background:#f4fbf8">70 722 <i class="rb">Р</i></div>
<div class="c" style="left:797px;top:379px;width:80px;height:22px;background:#fffdfd;padding-left:2px">3 917 <i class="rb">Р</i></div>
<div class="c" style="left:877px;top:379px;width:54px;height:22px;background:#f3f3f3;padding-left:4px">10 103</div>
<div class="c" style="left:931px;top:379px;width:64px;height:22px;background:#f3f3f3;padding-left:4px">3 047</div>
<div class="c" style="left:995px;top:379px;width:64px;height:22px;background:#fefcfc">38,8%</div>
<div class="c b" style="left:1059px;top:379px;width:79px;height:22px;background:#ffffff">981073, 179799</div>
<div class="c b" style="left:1138px;top:379px;width:79px;height:22px;background:#ffffff">574647, 1984936</div>
<div class="c b" style="left:1217px;top:379px;width:80px;height:22px;background:#ffffff">564444, 176457</div>
<div class="c b" style="left:1297px;top:379px;width:79px;height:22px;background:#ffffff">038932, 146016</div>
<div class="c" style="left:1376px;top:379px;width:76px;height:22px;background:#ffffff"></div>
<div class="c" style="left:1452px;top:379px;width:75px;height:22px;background:#ffffff">9 990 <i class="rb">Р</i></div>
<div class="c" style="left:1527px;top:379px;width:78px;height:22px;background:#ffffff">1</div>
<div class="c w" style="left:0px;top:401px;width:72px;height:22px;background:#666666">30 янв.</div>
<div class="c" style="left:72px;top:401px;width:79px;height:22px;background:#ffffff">19 710 <i class="rb">Р</i></div>
<div class="c" style="left:151px;top:401px;width:82px;height:22px;background:#f3f3f3">23 652 <i class="rb">Р</i></div>
<div class="c" style="left:233px;top:401px;width:54px;height:22px;background:#ffffff;padding-left:6px">1 037</div>
<div class="c" style="left:287px;top:401px;width:45px;height:22px;background:#ffffff">2</div>
<div class="c" style="left:332px;top:401px;width:51px;height:22px;background:#ffffff;padding-left:1.6px">0,2%</div>
<div class="c" style="left:383px;top:401px;width:62px;height:22px;background:#e67c73;padding-left:3.4px">11 826 <i class="rb">Р</i></div>
<div class="c" style="left:445px;top:401px;width:62px;height:22px;background:#f3f3f3;padding-left:3.4px">9 855 <i class="rb">Р</i></div>
<div class="c" style="left:507px;top:401px;width:50px;height:22px;background:#f3f3f3;padding-left:2px">50,0%</div>
<div class="c" style="left:557px;top:401px;width:59px;height:22px;background:#ffffff;padding-left:2px">1</div>
<div class="c" style="left:616px;top:401px;width:50px;height:22px;background:#ffffff">1</div>
<div class="c" style="left:666px;top:401px;width:50px;height:22px;background:#ffffff">2</div>
<div class="c" style="left:716px;top:401px;width:81px;height:22px;background:#ffffff">2 661 <i class="rb">Р</i></div>
<div class="c" style="left:797px;top:401px;width:80px;height:22px;background:#e67c73;padding-left:2px">23 652 <i class="rb">Р</i></div>
<div class="c" style="left:877px;top:401px;width:54px;height:22px;background:#f3f3f3;padding-left:4px">2 661</div>
<div class="c" style="left:931px;top:401px;width:64px;height:22px;background:#f3f3f3;padding-left:4px">11 826</div>
<div class="c" style="left:995px;top:401px;width:64px;height:22px;background:#e67c73">888,8%</div>
<div class="c b" style="left:1059px;top:401px;width:79px;height:22px;background:#ffffff">1424243041</div>
<div class="c b" style="left:1138px;top:401px;width:79px;height:22px;background:#ffffff">1435599093</div>
<div class="c b" style="left:1217px;top:401px;width:80px;height:22px;background:#ffffff"></div>
<div class="c b" style="left:1297px;top:401px;width:79px;height:22px;background:#ffffff">1424243041</div>
<div class="c" style="left:1376px;top:401px;width:76px;height:22px;background:#ffffff"></div>
<div class="c" style="left:1452px;top:401px;width:75px;height:22px;background:#ffffff"></div>
<div class="c" style="left:1527px;top:401px;width:78px;height:22px;background:#ffffff"></div>
<div class="c w" style="left:0px;top:423px;width:72px;height:21px;background:#666666">31 янв.</div>
<div class="c" style="left:72px;top:423px;width:79px;height:21px;background:#ffffff">23 720 <i class="rb">Р</i></div>
<div class="c" style="left:151px;top:423px;width:82px;height:21px;background:#f3f3f3">28 464 <i class="rb">Р</i></div>
<div class="c" style="left:233px;top:423px;width:54px;height:21px;background:#ffffff;padding-left:6px">1 086</div>
<div class="c" style="left:287px;top:423px;width:45px;height:21px;background:#fafdfc">5</div>
<div class="c" style="left:332px;top:423px;width:51px;height:21px;background:#f3faf6;padding-left:1.6px">0,5%</div>
<div class="c" style="left:383px;top:423px;width:62px;height:21px;background:#f6ceca;padding-left:3.4px">5 693 <i class="rb">Р</i></div>
<div class="c" style="left:445px;top:423px;width:62px;height:21px;background:#f3f3f3;padding-left:3.4px">4 744 <i class="rb">Р</i></div>
<div class="c" style="left:507px;top:423px;width:50px;height:21px;background:#f3f3f3;padding-left:2px">40,0%</div>
<div class="c" style="left:557px;top:423px;width:59px;height:21px;background:#ffffff;padding-left:2px">2</div>
<div class="c" style="left:616px;top:423px;width:50px;height:21px;background:#ffffff">0</div>
<div class="c" style="left:666px;top:423px;width:50px;height:21px;background:#ffffff">4</div>
<div class="c" style="left:716px;top:423px;width:81px;height:21px;background:#fcfefd">19 980 <i class="rb">Р</i></div>
<div class="c" style="left:797px;top:423px;width:80px;height:21px;background:#f0b1ac;padding-left:2px">14 232 <i class="rb">Р</i></div>
<div class="c" style="left:877px;top:423px;width:54px;height:21px;background:#f3f3f3;padding-left:4px">9 990</div>
<div class="c" style="left:931px;top:423px;width:64px;height:21px;background:#f3f3f3;padding-left:4px">7 116</div>
<div class="c" style="left:995px;top:423px;width:64px;height:21px;background:#fbedeb">142,5%</div>
<div class="c b" style="left:1059px;top:423px;width:79px;height:21px;background:#ffffff">951147, 146243</div>
<div class="c b" style="left:1138px;top:423px;width:79px;height:21px;background:#ffffff">313360, 140709</div>
<div class="c b" style="left:1217px;top:423px;width:80px;height:21px;background:#ffffff"></div>
<div class="c b" style="left:1297px;top:423px;width:79px;height:21px;background:#ffffff"></div>
<div class="c" style="left:1376px;top:423px;width:76px;height:21px;background:#ffffff"></div>
<div class="c" style="left:1452px;top:423px;width:75px;height:21px;background:#ffffff"></div>
<div class="c" style="left:1527px;top:423px;width:78px;height:21px;background:#ffffff"></div>
<div class="c w" style="left:0px;top:444px;width:72px;height:22px;background:#666666">Итого</div>
<div class="c w" style="left:72px;top:444px;width:79px;height:22px;background:#666666;padding-left:1px">1 280 651 <i class="rb">Р</i></div>
<div class="c w" style="left:151px;top:444px;width:82px;height:22px;background:#666666;padding-left:1px">1 536 781 <i class="rb">Р</i></div>
<div class="c w" style="left:233px;top:444px;width:54px;height:22px;background:#666666;padding-left:1px">56 124</div>
<div class="c w" style="left:287px;top:444px;width:45px;height:22px;background:#666666;padding-left:1px">995</div>
<div class="c w" style="left:332px;top:444px;width:51px;height:22px;background:#666666;padding-left:1.6px">1,8%</div>
<div class="c w" style="left:383px;top:444px;width:62px;height:22px;background:#666666;padding-left:3.4px">1 545 <i class="rb">Р</i></div>
<div class="c w" style="left:445px;top:444px;width:62px;height:22px;background:#666666;padding-left:3.4px">1 287 <i class="rb">Р</i></div>
<div class="c w" style="left:507px;top:444px;width:50px;height:22px;background:#666666;padding-left:2px">65,8%</div>
<div class="c w" style="left:557px;top:444px;width:59px;height:22px;background:#666666;padding-left:7px">655</div>
<div class="c w" style="left:616px;top:444px;width:50px;height:22px;background:#666666;padding-left:1px">142</div>
<div class="c w" style="left:666px;top:444px;width:50px;height:22px;background:#666666;padding-left:1px">780</div>
<div class="c w" style="left:716px;top:444px;width:81px;height:22px;background:#666666;padding-left:1px">7 602 510 <i class="rb">Р</i></div>
<div class="c w" style="left:797px;top:444px;width:80px;height:22px;background:#666666;padding-left:2px">2 346 <i class="rb">Р</i></div>
<div class="c w" style="left:877px;top:444px;width:54px;height:22px;background:#666666;padding-left:4px">11 607</div>
<div class="c w" style="left:931px;top:444px;width:64px;height:22px;background:#666666;padding-left:4px">1 970</div>
<div class="c w" style="left:995px;top:444px;width:64px;height:22px;background:#666666;padding-left:1px">20,2%</div>
<div class="c w" style="left:1059px;top:444px;width:79px;height:22px;background:#666666;padding-left:1px"></div>
<div class="c w" style="left:1138px;top:444px;width:79px;height:22px;background:#666666;padding-left:1px"></div>
<div class="c w" style="left:1217px;top:444px;width:80px;height:22px;background:#666666;padding-left:1px"></div>
<div class="c w" style="left:1297px;top:444px;width:79px;height:22px;background:#666666;padding-left:1px"></div>
<div class="c w" style="left:1376px;top:444px;width:76px;height:22px;background:#666666;padding-left:1px"></div>
<div class="c w" style="left:1452px;top:444px;width:75px;height:22px;background:#666666;padding-left:1px">195 622 <i class="rb">Р</i></div>
<div class="c w" style="left:1527px;top:444px;width:78px;height:22px;background:#666666;padding-left:1px">17</div>
<div class="c w" style="left:0px;top:466px;width:72px;height:22px;background:#999999">KPI</div>
<div class="c w" style="left:72px;top:466px;width:79px;height:22px;background:#999999;padding-left:1px"></div>
<div class="c w" style="left:151px;top:466px;width:82px;height:22px;background:#999999;padding-left:1px">1 400 000 <i class="rb">Р</i></div>
<div class="c w" style="left:233px;top:466px;width:54px;height:22px;background:#999999;padding-left:1px"></div>
<div class="c w" style="left:287px;top:466px;width:45px;height:22px;background:#999999;padding-left:1px"></div>
<div class="c w" style="left:332px;top:466px;width:51px;height:22px;background:#999999;padding-left:1.6px"></div>
<div class="c w" style="left:383px;top:466px;width:62px;height:22px;background:#999999;padding-left:3.4px">3 900 <i class="rb">Р</i></div>
<div class="c w" style="left:445px;top:466px;width:62px;height:22px;background:#999999;padding-left:3.4px"></div>
<div class="c w" style="left:507px;top:466px;width:50px;height:22px;background:#999999;padding-left:2px"></div>
<div class="c w" style="left:557px;top:466px;width:59px;height:22px;background:#999999;padding-left:2px"></div>
<div class="c w" style="left:616px;top:466px;width:50px;height:22px;background:#999999;padding-left:1px"></div>
<div class="c w" style="left:666px;top:466px;width:50px;height:22px;background:#999999;padding-left:1px"></div>
<div class="c w" style="left:716px;top:466px;width:81px;height:22px;background:#999999;padding-left:1px">304 100 <i class="rb">Р</i></div>
<div class="c w" style="left:797px;top:466px;width:80px;height:22px;background:#999999;padding-left:2px"></div>
<div class="c w" style="left:877px;top:466px;width:54px;height:22px;background:#999999;padding-left:4px"></div>
<div class="c w" style="left:931px;top:466px;width:64px;height:22px;background:#999999;padding-left:4px"></div>
<div class="c w" style="left:995px;top:466px;width:64px;height:22px;background:#999999;padding-left:1px">34,0%</div>
<div class="c w" style="left:1059px;top:466px;width:79px;height:22px;background:#999999;padding-left:1px"></div>
<div class="c w" style="left:1138px;top:466px;width:79px;height:22px;background:#999999;padding-left:1px"></div>
<div class="c w" style="left:1217px;top:466px;width:80px;height:22px;background:#999999;padding-left:1px"></div>
<div class="c w" style="left:1297px;top:466px;width:79px;height:22px;background:#999999;padding-left:1px"></div>
<div class="c w" style="left:1376px;top:466px;width:76px;height:22px;background:#999999;padding-left:1px"></div>
<div class="c w" style="left:1452px;top:466px;width:75px;height:22px;background:#999999;padding-left:1px"></div>
<div class="c w" style="left:1527px;top:466px;width:78px;height:22px;background:#999999;padding-left:1px">2 872 <i class="rb">Р</i></div>
<div class="c w" style="left:0px;top:488px;width:72px;height:20px;background:#999999">% выполн</div>
<div class="c w" style="left:72px;top:488px;width:79px;height:20px;background:#999999;padding-left:1px"></div>
<div class="c w" style="left:151px;top:488px;width:82px;height:20px;background:#999999;padding-left:1px">109,77%</div>
<div class="c w" style="left:233px;top:488px;width:54px;height:20px;background:#999999;padding-left:1px"></div>
<div class="c w" style="left:287px;top:488px;width:45px;height:20px;background:#999999;padding-left:1px"></div>
<div class="c w" style="left:332px;top:488px;width:51px;height:20px;background:#999999;padding-left:1.6px"></div>
<div class="c w" style="left:383px;top:488px;width:62px;height:20px;background:#999999;padding-left:3.4px">252,51%</div>
<div class="c w" style="left:445px;top:488px;width:62px;height:20px;background:#999999;padding-left:3.4px"></div>
<div class="c w" style="left:507px;top:488px;width:50px;height:20px;background:#999999;padding-left:2px"></div>
<div class="c w" style="left:557px;top:488px;width:59px;height:20px;background:#999999;padding-left:2px"></div>
<div class="c w" style="left:616px;top:488px;width:50px;height:20px;background:#999999;padding-left:1px"></div>
<div class="c w" style="left:666px;top:488px;width:50px;height:20px;background:#999999;padding-left:1px"></div>
<div class="c w" style="left:716px;top:488px;width:81px;height:20px;background:#999999;padding-left:1px"></div>
<div class="c w" style="left:797px;top:488px;width:80px;height:20px;background:#999999;padding-left:2px"></div>
<div class="c w" style="left:877px;top:488px;width:54px;height:20px;background:#999999;padding-left:4px"></div>
<div class="c w" style="left:931px;top:488px;width:64px;height:20px;background:#999999;padding-left:4px"></div>
<div class="c w" style="left:995px;top:488px;width:64px;height:20px;background:#999999;padding-left:1px">168,20%</div>
<div class="c w" style="left:1059px;top:488px;width:79px;height:20px;background:#999999;padding-left:1px"></div>
<div class="c w" style="left:1138px;top:488px;width:79px;height:20px;background:#999999;padding-left:1px"></div>
<div class="c w" style="left:1217px;top:488px;width:80px;height:20px;background:#999999;padding-left:1px"></div>
<div class="c w" style="left:1297px;top:488px;width:79px;height:20px;background:#999999;padding-left:1px"></div>
<div class="c w" style="left:1376px;top:488px;width:76px;height:20px;background:#999999;padding-left:1px"></div>
<div class="c w" style="left:1452px;top:488px;width:75px;height:20px;background:#999999;padding-left:1px"></div>
<div class="c w" style="left:1527px;top:488px;width:78px;height:20px;background:#999999;padding-left:1px"></div>
<div class="vl" style="left:72px;top:0;height:508px;background:rgba(0,0,0,0.1)"></div>
<div class="vl" style="left:151px;top:0;height:508px;background:rgba(0,0,0,0.1)"></div>
<div class="vl" style="left:233px;top:0;height:508px;background:rgba(0,0,0,0.1)"></div>
<div class="vl" style="left:287px;top:0;height:508px;background:rgba(0,0,0,0.1)"></div>
<div class="vl" style="left:332px;top:0;height:508px;background:rgba(0,0,0,0.1)"></div>
<div class="vl" style="left:383px;top:0;height:508px;background:rgba(0,0,0,0.1)"></div>
<div class="vl" style="left:445px;top:0;height:508px;background:rgba(0,0,0,0.1)"></div>
<div class="vl" style="left:507px;top:0;height:508px;background:rgba(0,0,0,0.1)"></div>
<div class="vl" style="left:557px;top:0;height:508px;background:rgba(0,0,0,0.1)"></div>
<div class="vl" style="left:616px;top:0;height:508px;background:rgba(0,0,0,0.1)"></div>
<div class="vl" style="left:666px;top:0;height:508px;background:rgba(0,0,0,0.1)"></div>
<div class="vl" style="left:716px;top:0;height:508px;background:rgba(0,0,0,0.1)"></div>
<div class="vl" style="left:797px;top:0;height:508px;background:rgba(0,0,0,0.1)"></div>
<div class="vl" style="left:877px;top:0;height:508px;background:rgba(0,0,0,0.1)"></div>
<div class="vl" style="left:931px;top:0;height:508px;background:rgba(0,0,0,0.1)"></div>
<div class="vl" style="left:995px;top:0;height:508px;background:rgba(0,0,0,0.1)"></div>
<div class="vl" style="left:1059px;top:0;height:508px;background:rgba(0,0,0,0.1)"></div>
<div class="vl" style="left:1138px;top:0;height:508px;background:rgba(0,0,0,0.1)"></div>
<div class="vl" style="left:1217px;top:0;height:508px;background:rgba(0,0,0,0.1)"></div>
<div class="vl" style="left:1297px;top:0;height:508px;background:rgba(0,0,0,0.1)"></div>
<div class="vl" style="left:1376px;top:0;height:508px;background:rgba(0,0,0,0.1)"></div>
<div class="vl" style="left:1452px;top:0;height:508px;background:rgba(0,0,0,0.1)"></div>
<div class="vl" style="left:1527px;top:0;height:508px;background:rgba(0,0,0,0.1)"></div>
<div class="hl" style="top:12px;background:rgba(0,0,0,0.1)"></div>
<div class="hl" style="top:34px;background:rgba(0,0,0,0.1)"></div>
<div class="hl" style="top:55px;background:rgba(0,0,0,0.1)"></div>
<div class="hl" style="top:77px;background:rgba(0,0,0,0.1)"></div>
<div class="hl" style="top:98px;background:rgba(0,0,0,0.1)"></div>
<div class="hl" style="top:120px;background:rgba(0,0,0,0.1)"></div>
<div class="hl" style="top:142px;background:rgba(0,0,0,0.1)"></div>
<div class="hl" style="top:163px;background:rgba(0,0,0,0.1)"></div>
<div class="hl" style="top:185px;background:rgba(0,0,0,0.1)"></div>
<div class="hl" style="top:206px;background:rgba(0,0,0,0.1)"></div>
<div class="hl" style="top:228px;background:rgba(0,0,0,0.1)"></div>
<div class="hl" style="top:250px;background:rgba(0,0,0,0.1)"></div>
<div class="hl" style="top:271px;background:rgba(0,0,0,0.1)"></div>
<div class="hl" style="top:293px;background:rgba(0,0,0,0.1)"></div>
<div class="hl" style="top:314px;background:rgba(0,0,0,0.1)"></div>
<div class="hl" style="top:336px;background:rgba(0,0,0,0.1)"></div>
<div class="hl" style="top:358px;background:rgba(0,0,0,0.1)"></div>
<div class="hl" style="top:379px;background:rgba(0,0,0,0.1)"></div>
<div class="hl" style="top:401px;background:rgba(0,0,0,0.1)"></div>
<div class="hl" style="top:423px;background:rgba(0,0,0,0.1)"></div>
<div class="hl" style="top:488px;background:rgba(0,0,0,0.1)"></div>
</div>
</body></html>
